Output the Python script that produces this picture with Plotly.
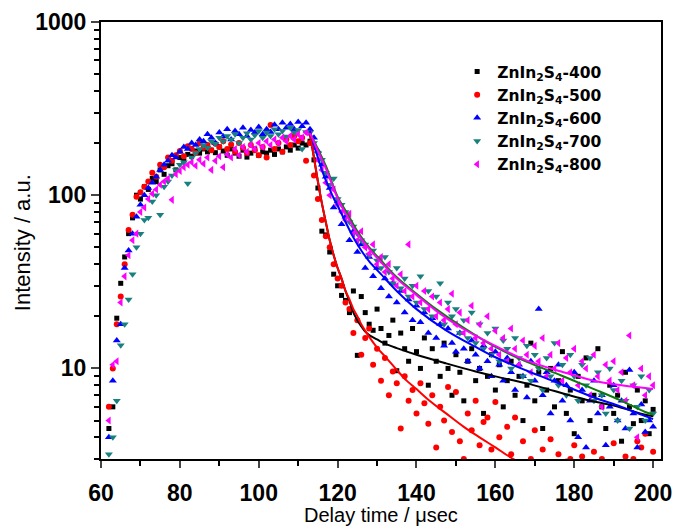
import plotly.graph_objects as go

# ---------------- data ----------------
delay_us = list(range(62, 201))

zis_400 = [4.5, 6, 19.5, 31, 44, 60, 74, 100, 95, 112, 108, 125, 120, 140, 132, 148, 152, 140, 165, 158,
           172, 168, 180, 175, 185, 178, 182, 176, 190, 180, 170, 185, 175, 168, 182, 166, 175, 185, 170, 178,
           175, 182, 172, 185, 178, 190, 182, 195, 187, 200, 195,
           205, 160, 110, 62, 59, 47, 35, 30, 26.4, 24.7, 21, 28, 11.9, 26, 21, 18, 16.6, 22, 17, 14,
           15.5, 19, 9.7, 16, 13, 11, 17, 12.5, 10, 15, 8, 13, 11, 9, 14, 10, 7, 12, 9.5, 6.5,
           11, 13, 8.5, 10, 5.5, 9, 12, 7.5, 10.5, 6, 8.5, 11, 7, 9, 5, 8, 14, 6.5, 9.5, 4.5,
           7.5, 10, 6, 8.5, 12.5, 5.5, 7.5, 4.2, 9, 6.5, 11.5, 5, 7, 13, 6, 4.5, 8, 5.5, 7, 3.8,
           9.5, 6, 4.8, 7.5, 5, 6.5, 4.2, 5.8]

zis_500 = [6, 10, 18, 26, 40, 63, 77, 98, 104, 112, 120, 135, 128, 150, 145, 165, 158, 170, 180, 168,
           192, 185, 175, 200, 188, 195, 182, 198, 190, 205, 185, 196, 178, 200, 188, 175, 195, 182, 170, 190,
           165, 254, 185, 200, 178, 210, 195, 220, 205, 215, 158,
           200, 130, 95, 72, 58, 50, 40, 33, 30, 24, 22, 16, 19, 12, 15, 17, 10.5, 13, 8.5, 11.5,
           7, 9.6, 8.2, 4.5, 9, 6.5, 7.5, 5.5, 8.2, 6.3, 4.8, 7, 3.5, 6, 5, 7.8, 4.3, 7.3, 3.8, 3.0,
           5.5, 4.4, 6.5, 3.6, 4.9, 5.2, 3.4, 6.4, 4, 2.6, 4.6, 3.2, 5.2, 2.8, 3.8, 2.5, 3.0, 4.4, 2.7, 3.4,
           2.4, 3.9, 2.6, 3.2, 2.3, 2.9, 3.0, 3.6, 2.5, 3.1, 2.7, 2.2, 3.3, 2.6, 3.0, 2.4, 2.8, 3.7, 2.5, 2.3,
           3.1, 2.6, 3.0, 3.8, 3.5, 4.2, 2.7, 3.3]

zis_600 = [4, 8.5, 14.5, 18, 38, 48, 60, 75, 88, 100, 110, 118, 128, 140, 150, 158, 170, 165, 178, 190,
           185, 200, 195, 210, 205, 225, 215, 200, 230, 218, 240, 210, 235, 225, 245, 220, 238, 230, 248, 225,
           240, 232, 255, 240, 262, 245, 258, 240, 265, 250, 262,
           240, 215, 180, 150, 128, 110, 85, 92, 68, 75, 55, 62, 47, 52, 38, 44, 34, 38, 29, 33,
           26, 31, 24, 28, 21, 25, 19, 23, 18.5, 21, 16, 19.5, 15, 18, 13.5, 17, 14, 12.5, 16, 13,
           11, 14.5, 12, 10, 13.5, 11, 9, 12.5, 10.5, 8.5, 11.5, 9.5, 7.5, 10.5, 9, 6.8, 11, 8.5, 22, 7,
           9.5, 5.5, 8.5, 10.5, 6.5, 8, 5, 9.5, 4, 7.5, 3.5, 6.5, 8.5, 5.5, 7, 3.6, 6, 8, 5, 6.5,
           4.5, 9.8, 5.5, 3.5, 6.2, 4.3, 5, 4.6]

zis_700 = [3.2, 4, 6.5, 13.6, 18, 25, 35, 50, 60, 72, 74, 92, 100, 77, 112, 120, 130, 140, 150, 155,
           117, 165, 175, 185, 195, 188, 205, 198, 215, 205, 220, 210, 225, 200, 215, 228, 210, 222, 235, 215,
           230, 220, 240, 225, 235, 218, 245, 230, 238, 185, 232,
           230, 200, 175, 160, 135, 115, 125, 95, 88, 80, 70, 66, 60, 55, 52, 45, 48, 42, 38, 44,
           36, 31, 38, 29, 33, 26, 30, 24, 34, 22, 28, 20, 26, 31, 18, 24, 20, 22, 16, 19,
           15, 21, 14, 18, 13, 16, 12, 17, 11, 14.5, 13, 10, 15, 11.5, 9, 13.5, 8.5, 12, 10, 7.5,
           11.5, 9, 14, 8, 10.5, 7, 12, 9, 6.5, 10.5, 8, 11.5, 6.5, 9.5, 7, 5.5, 10, 7.5, 5, 8.5,
           6.5, 4.5, 8, 6, 9, 5, 7.5, 5.5]

zis_800 = [5, 10.5, 11, 24, 34, 45, 55, 60, 80, 85, 95, 102, 108, 115, 120, 125, 94, 132, 138, 145,
           150, 155, 148, 160, 152, 165, 140, 158, 168, 145, 172, 165, 185, 170, 190, 178, 195, 185, 200, 190,
           205, 195, 210, 200, 215, 205, 220, 210, 225, 215, 230,
           225, 190, 160, 140, 118, 100, 108, 88, 80, 72, 78, 60, 55, 62, 50, 46, 52, 40, 44, 36,
           40, 33, 30, 35, 28, 52, 26, 30, 24, 28, 22, 26, 20, 24, 19, 22, 27, 18, 21, 16,
           19, 23, 15, 18, 14, 20, 13, 16.5, 12, 15, 11, 17, 13, 10.5, 14.5, 12, 9.5, 13.5, 11, 15,
           9, 12, 10, 14, 8.5, 11.5, 9.5, 13, 8, 11, 10, 7, 12, 9, 6, 10.5, 8.5, 11, 7.5, 9.5,
           6.5, 15.5, 8, 4, 10, 7, 9, 8]

fit_400_x = [113, 114, 115, 116, 117, 118, 119, 120, 121, 122, 123, 124, 125, 126, 127, 128, 129, 130,
             132, 135, 140, 147.5, 155, 160, 168, 175, 183, 190, 198, 200]
fit_400_y = [225, 165, 120, 90, 70, 55, 45, 38, 33, 28, 24.5, 21, 19, 17.5, 16.3, 15.6, 15.1, 14.7,
             13.9, 13.1, 12, 10.7, 9.6, 9.0, 8.2, 7.4, 6.6, 6.1, 5.4, 5.3]

fit_500_x = [113, 114, 115, 116, 117, 118, 119, 120, 121, 122, 123, 124, 125, 126, 127, 128, 130,
             132.5, 135, 137.5, 140, 143, 147.5, 152, 156, 160, 164, 167]
fit_500_y = [225, 165, 120, 90, 70, 55, 45, 38, 33, 28, 25, 22, 20, 18, 16.5, 15.2, 13.2,
             11.4, 9.8, 8.5, 7.6, 6.6, 5.5, 4.6, 4.0, 3.5, 3.05, 2.8]

fit_600_x = [113, 114, 115, 116, 117, 118, 119, 120, 122, 124, 126, 128, 131, 135, 140, 147.5,
             155, 160, 168, 175, 185, 192, 198, 200]
fit_600_y = [235, 195, 165, 140, 122, 108, 96, 87, 70, 57, 48, 41.5, 35, 28, 22, 16.6,
             13.3, 11.6, 9.7, 8.4, 6.8, 6.0, 5.3, 5.1]

fit_700_x = [113, 115, 117, 120, 122.5, 125, 128, 131, 135, 140, 145, 151.7, 160, 168, 176.7,
             185, 192, 198, 200]
fit_700_y = [228, 185, 148, 98, 78, 62, 50, 42, 33.6, 27, 22, 17.3, 13.3, 10.9, 9.1,
             7.6, 6.5, 5.6, 5.4]

fit_800_x = [113, 115, 117, 120, 122.5, 125, 128, 131, 135, 140, 145, 151.7, 160, 168, 176.7,
             185, 192, 198, 200]
fit_800_y = [228, 180, 143, 96, 75, 60, 49, 41, 33, 26.5, 21.5, 17, 13.5, 11.1, 9.6,
             8.5, 8.0, 7.7, 7.6]

names = ["<b>ZnIn<sub>2</sub>S<sub>4</sub>-400</b>", "<b>ZnIn<sub>2</sub>S<sub>4</sub>-500</b>",
         "<b>ZnIn<sub>2</sub>S<sub>4</sub>-600</b>", "<b>ZnIn<sub>2</sub>S<sub>4</sub>-700</b>",
         "<b>ZnIn<sub>2</sub>S<sub>4</sub>-800</b>"]

x_ticks = [60, 80, 100, 120, 140, 160, 180, 200]
y_ticks = [10, 100, 1000]
x_title = "Delay time / \u03bcsec"
y_title = "Intensity / a.u."

# ---------------- styles ----------------
series = [zis_400, zis_500, zis_600, zis_700, zis_800]
fits = [(fit_400_x, fit_400_y), (fit_500_x, fit_500_y), (fit_600_x, fit_600_y),
        (fit_700_x, fit_700_y), (fit_800_x, fit_800_y)]
marker_colors = ["#000000", "#ff0000", "#0000ff", "#198080", "#ff00ff"]
line_colors = ["#000000", "#ff0000", "#0000ff", "#0a7a0a", "#ff00ff"]
symbols = ["square", "circle", "triangle-up", "triangle-down", "triangle-left"]
sizes = [5, 6, 7, 7, 7]
FONT = "Liberation Sans, Arial, sans-serif"

fig = go.Figure()
for ys, nm, c, s, sz in zip(series, names, marker_colors, symbols, sizes):
    fig.add_trace(go.Scatter(x=delay_us, y=ys, mode="markers", name=nm,
                             marker=dict(color=c, symbol=s, size=sz, line=dict(width=0))))
for (fx, fy), c in zip(fits, line_colors):
    fig.add_trace(go.Scatter(x=fx, y=fy, mode="lines", showlegend=False,
                             line=dict(color=c, width=2, shape="spline")))

fig.update_layout(
    width=673, height=526,
    margin=dict(l=101, r=12, t=22, b=67),
    paper_bgcolor="white", plot_bgcolor="white",
    font=dict(family=FONT, color="black"),
    legend=dict(x=0.636, y=0.9245, xanchor="left", yanchor="top",
                bgcolor="rgba(0,0,0,0)",
                font=dict(size=15.5, color="black", family="DejaVu Sans, Liberation Sans, sans-serif"),
                itemwidth=30),
    showlegend=True,
    annotations=[
        dict(text=x_title, xref="paper", yref="paper", x=0.5, y=-0.128,
             xanchor="center", yanchor="middle", showarrow=False, font=dict(size=20, family=FONT)),
        dict(text=y_title, xref="paper", yref="paper", x=-0.141, y=0.494, textangle=-90,
             xanchor="center", yanchor="middle", showarrow=False, font=dict(size=22, family=FONT)),
    ],
)
fig.update_xaxes(
    range=[60, 202], tickvals=x_ticks, ticktext=["<b>%d</b>" % v for v in x_ticks],
    ticks="outside", ticklen=7, tickwidth=2, automargin=False,
    showline=True, linewidth=2, linecolor="black", mirror=True, showgrid=False, zeroline=False,
    tickfont=dict(size=23, family=FONT), ticklabelstandoff=5,
    minor=dict(dtick=10, ticks="outside", ticklen=5, tickwidth=2, tickcolor="black", showgrid=False),
)
fig.update_yaxes(
    type="log", range=[0.4771, 3], tickvals=y_ticks, ticktext=["<b>10</b>", "<b>100</b>", "<b>1000</b>"],
    ticks="outside", ticklen=8, tickwidth=2, automargin=False,
    showline=True, linewidth=2, linecolor="black", mirror=True, showgrid=False, zeroline=False,
    tickfont=dict(size=23, family=FONT),
    minor=dict(dtick="D1", ticks="outside", ticklen=5, tickwidth=1.5, tickcolor="black", showgrid=False),
)

# remove the browser's default 8 px body margin so the 673x526 figure fills the window exactly
fig.write_html("out.html", config={"displayModeBar": False},
               post_script="document.body.style.margin='0';document.body.style.overflow='hidden';")
